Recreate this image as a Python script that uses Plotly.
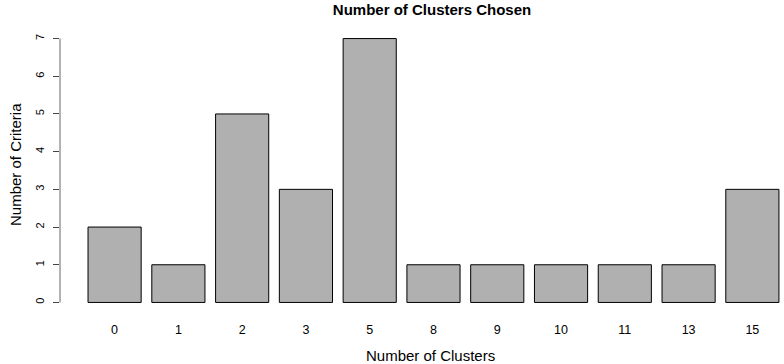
import plotly.graph_objects as go

clusters = ["0", "1", "2", "3", "5", "8", "9", "10", "11", "13", "15"]
criteria = [2, 1, 5, 3, 7, 1, 1, 1, 1, 1, 3]
y_ticks = [0, 1, 2, 3, 4, 5, 6, 7]

font = "Liberation Sans, Arial, sans-serif"

fig = go.Figure(go.Bar(
    x=clusters, y=criteria,
    marker=dict(color="#B0B0B0", line=dict(color="black", width=1)),
    width=0.8333,
))

fig.update_layout(
    width=784, height=364,
    margin=dict(l=60, r=0, t=28, b=51),
    plot_bgcolor="white", paper_bgcolor="white",
    showlegend=False,
    font=dict(family=font, color="black"),
    title=dict(text="<b>Number of Clusters Chosen</b>", x=432/784, xref="container",
               xanchor="center", y=1 - 10/364, yref="container", yanchor="middle",
               font=dict(size=15, family=font, color="black")),
    xaxis=dict(type="category", range=[-0.856, 10.496], showline=False, showgrid=False,
               zeroline=False, ticks="", tickfont=dict(size=12.5), ticklabelstandoff=7),
    yaxis=dict(range=[-0.28, 7.28], showline=False, showgrid=False, zeroline=False,
               tickvals=y_ticks, ticktext=[str(v) for v in y_ticks], ticks="outside",
               ticklen=6, tickcolor="#444", tickangle=-90, tickfont=dict(size=11),
               ticklabelstandoff=5),
)

fig.add_shape(type="line", xref="paper", yref="y", x0=0, x1=0, y0=min(y_ticks), y1=max(y_ticks),
              line=dict(color="#666", width=1))

fig.add_annotation(text="Number of Clusters", xref="paper", yref="paper",
                   x=(430 - 60) / 724, y=-(355 - 313) / 285, yanchor="middle",
                   showarrow=False, font=dict(size=15, family=font, color="black"))
fig.add_annotation(text="Number of Criteria", xref="paper", yref="paper",
                   x=-(60 - 15) / 724, y=(313 - 165) / 285, textangle=-90,
                   xanchor="center", yanchor="middle",
                   showarrow=False, font=dict(size=15, family=font, color="black"))

fig.write_html("out.html")
